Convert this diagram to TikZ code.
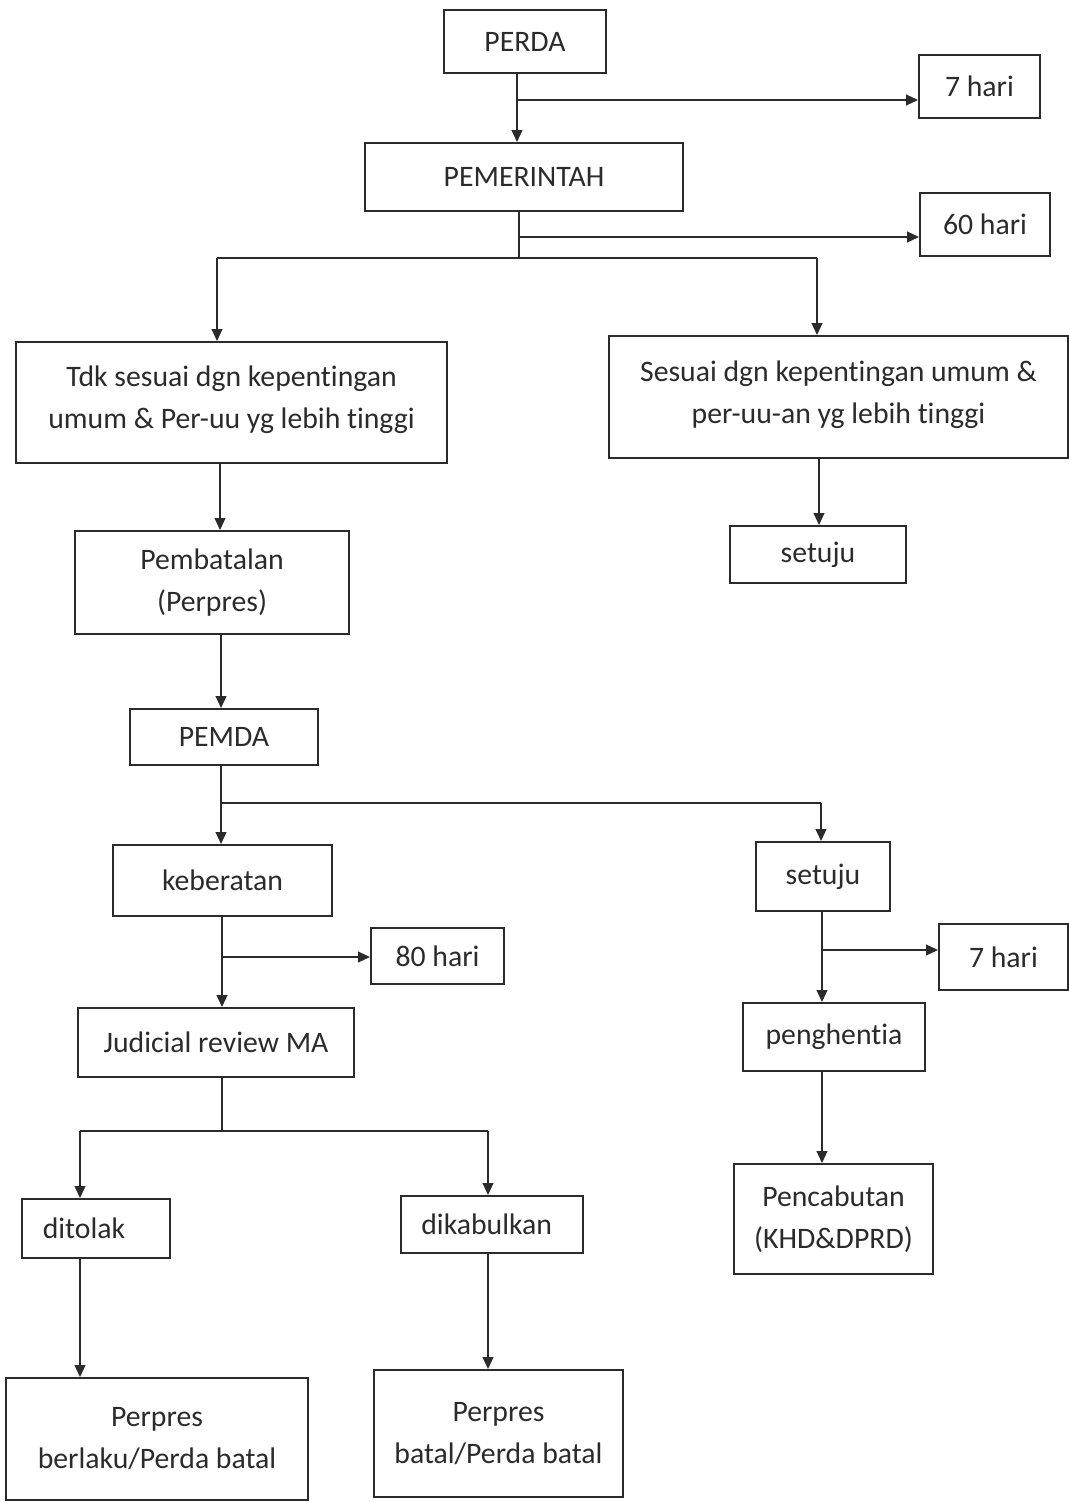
\documentclass[tikz,border=0pt]{standalone}
\usepackage{fontspec}
\setmainfont[Ligatures=NoCommon]{Carlito}
\usetikzlibrary{arrows.meta}
\definecolor{ink}{HTML}{2B2B2B}
\newcommand\flowbox[6]{\node[box, minimum width={(#4-#2)*0.75pt}, minimum height={(#5-#3)*0.75pt}] (#1) at ({(#2+#4)/2},{(#3+#5)/2}) {#6};}
\begin{document}
\begin{tikzpicture}[x=0.75pt,y=-0.75pt,
  box/.style={draw=ink, line width=1.4pt, inner sep=0pt, align=center, text=ink, font=\fontsize{22.3}{31.5}\selectfont},
  conn/.style={draw=ink, line width=1.4pt},
  arr/.style={conn, -{Triangle[length=9pt,width=8pt]}}]
\useasboundingbox (0,0) rectangle (1069,1502);
\fill[white] (0,0) rectangle (1069,1502);
% boxes
\flowbox{perda}{444}{10}{606}{73}{PERDA}
\flowbox{ha}{919}{55}{1040}{118}{7 hari}
\flowbox{pem}{365}{143}{683}{211}{PEMERINTAH}
\flowbox{hb}{920}{193}{1050}{256}{60 hari}
\flowbox{tdk}{16}{342}{447}{463}{Tdk sesuai dgn kepentingan\\umum \& Per-uu yg lebih tinggi\\[-24pt]}
\flowbox{ses}{609}{336}{1068}{458}{Sesuai dgn kepentingan umum \&\\per-uu-an yg lebih tinggi\\[-24pt]}
\flowbox{pbt}{75}{531}{349}{634}{Pembatalan\\(Perpres)}
\flowbox{stja}{730}{526}{906}{583}{setuju}
\flowbox{pemda}{130}{709}{318}{765}{PEMDA}
\flowbox{keb}{113}{845}{332}{916}{keberatan}
\flowbox{stjb}{756}{842}{890}{911}{setuju}
\flowbox{hc}{371}{928}{504}{984}{80 hari}
\flowbox{hd}{939}{924}{1068}{990}{7 hari}
\flowbox{jr}{78}{1008}{354}{1077}{Judicial review MA}
\flowbox{peng}{743}{1003}{925}{1071}{penghentia}
\flowbox{dit}{22}{1199}{170}{1258}{ditolak\hspace*{18pt}}
\flowbox{dik}{401}{1196}{583}{1253}{dikabulkan\hspace*{8pt}}
\flowbox{pcb}{734}{1164}{933}{1274}{Pencabutan\\(KHD\&DPRD)}
\flowbox{pba}{6}{1378}{308}{1500}{Perpres\\berlaku/Perda batal}
\flowbox{pbb}{374}{1370}{623}{1497}{Perpres\\batal/Perda batal}
% junction coordinates
\coordinate (c1) at (517,100);
\coordinate (c2) at (519,237);
\coordinate (c3) at (519,258);
\coordinate (l1) at (217,258);
\coordinate (r1) at (817,258);
\coordinate (c4) at (221,803);
\coordinate (r2) at (821,803);
\coordinate (c5) at (222,957);
\coordinate (c6) at (822,950);
\coordinate (c7) at (222,1131);
\coordinate (l3) at (80,1131);
\coordinate (r3) at (488,1131);
% connectors
\draw[arr] (c1 |- perda.south) -- (c1 |- pem.north);
\draw[arr] (c1) -- (c1 -| ha.west);
\draw[conn] (c2 |- pem.south) -- (c3);
\draw[arr] (c2) -- (c2 -| hb.west);
\draw[conn] (l1) -- (r1);
\draw[arr] (l1) -- (l1 |- tdk.north);
\draw[arr] (r1) -- (r1 |- ses.north);
\draw[arr] (220,0 |- tdk.south) -- (220,0 |- pbt.north);
\draw[arr] (819,0 |- ses.south) -- (819,0 |- stja.north);
\draw[arr] (c4 |- pbt.south) -- (c4 |- pemda.north);
\draw[arr] (c4 |- pemda.south) -- (c4 |- keb.north);
\draw[conn] (c4) -- (r2);
\draw[arr] (r2) -- (r2 |- stjb.north);
\draw[arr] (c5 |- keb.south) -- (c5 |- jr.north);
\draw[arr] (c5) -- (c5 -| hc.west);
\draw[arr] (c6 |- stjb.south) -- (c6 |- peng.north);
\draw[arr] (c6) -- (c6 -| hd.west);
\draw[conn] (c7 |- jr.south) -- (c7);
\draw[conn] (l3) -- (r3);
\draw[arr] (l3) -- (l3 |- dit.north);
\draw[arr] (r3) -- (r3 |- dik.north);
\draw[arr] (c6 |- peng.south) -- (c6 |- pcb.north);
\draw[arr] (l3 |- dit.south) -- (l3 |- pba.north);
\draw[arr] (r3 |- dik.south) -- (r3 |- pbb.north);
\end{tikzpicture}
\end{document}
